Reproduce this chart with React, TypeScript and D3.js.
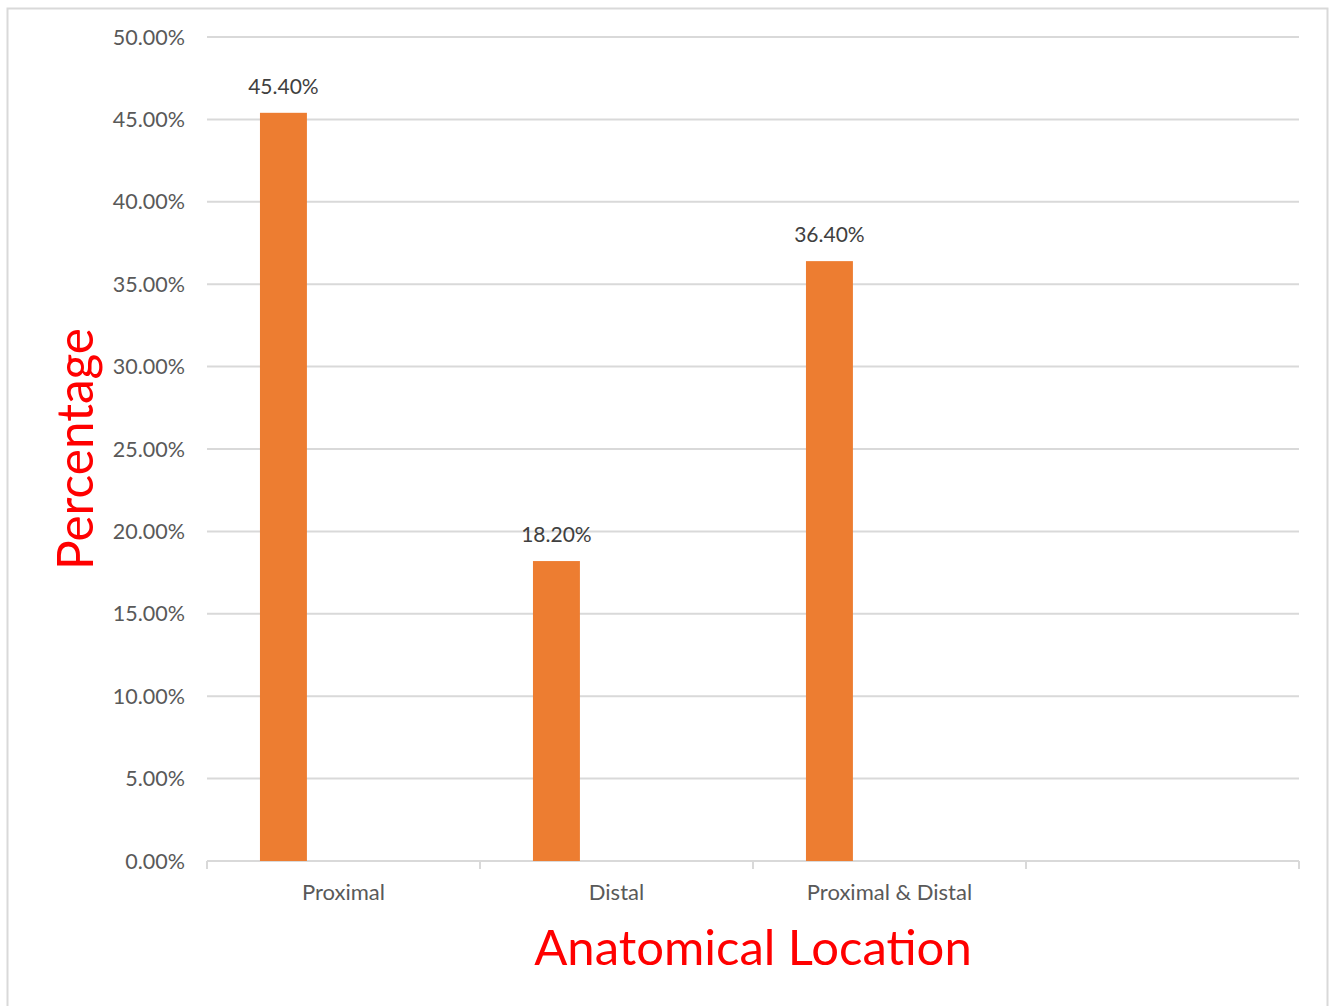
import * as d3 from 'd3';
import { useEffect, useRef } from 'react';

const categories = ['Proximal', 'Distal', 'Proximal & Distal', ''];
const values = [0.454, 0.182, 0.364, null];
const yTicks = [0, 0.05, 0.1, 0.15, 0.2, 0.25, 0.3, 0.35, 0.4, 0.45, 0.5];

export default function App() {
  const ref = useRef<SVGSVGElement | null>(null);

  useEffect(() => {
    const width = 1333;
    const height = 1006;
    const left = 207;
    const right = 1299;
    const top = 37;
    const bottom = 861;
    const font = 'Lato, "Open Sans", sans-serif';

    const svg = d3.select(ref.current);
    svg.selectAll('*').remove();

    svg.attr('width', width).attr('height', height);

    svg
      .append('rect')
      .attr('width', width)
      .attr('height', height)
      .attr('fill', '#fff');

    /* ---------- FRAME ---------- */
    svg
      .append('rect')
      .attr('x', 7.5)
      .attr('y', 8.5)
      .attr('width', 1320)
      .attr('height', 1010)
      .attr('fill', 'none')
      .attr('stroke', '#d9d9d9')
      .attr('stroke-width', 2);

    const x = d3.scaleBand<string>().domain(categories.map((c, i) => c + '#' + i)).range([left, right]);
    const y = d3.scaleLinear().domain([0, 0.5]).range([bottom, top]);
    const fmt = d3.format('.2%');

    /* ---------- GRID ---------- */
    svg
      .selectAll('.grid')
      .data(yTicks.filter(t => t > 0))
      .enter()
      .append('line')
      .attr('x1', left)
      .attr('x2', right)
      .attr('y1', d => y(d))
      .attr('y2', d => y(d))
      .attr('stroke', '#d9d9d9')
      .attr('stroke-width', 2);

    /* ---------- Y LABELS ---------- */
    svg
      .selectAll('.ytick')
      .data(yTicks)
      .enter()
      .append('text')
      .attr('x', 185)
      .attr('y', d => y(d))
      .attr('dy', '0.35em')
      .attr('text-anchor', 'end')
      .attr('fill', '#595959')
      .style('font-family', font)
      .style('font-size', '21.5px')
      .text(d => fmt(d));

    /* ---------- X AXIS ---------- */
    svg
      .append('line')
      .attr('x1', left)
      .attr('x2', right)
      .attr('y1', bottom)
      .attr('y2', bottom)
      .attr('stroke', '#d9d9d9')
      .attr('stroke-width', 2);

    const keys = x.domain();
    const bounds = keys.map(k => x(k) as number).concat([right]);
    svg
      .selectAll('.xtick')
      .data(bounds)
      .enter()
      .append('line')
      .attr('x1', d => d)
      .attr('x2', d => d)
      .attr('y1', bottom)
      .attr('y2', bottom + 8)
      .attr('stroke', '#d9d9d9')
      .attr('stroke-width', 2);

    svg
      .selectAll('.xlabel')
      .data(keys)
      .enter()
      .append('text')
      .attr('x', d => (x(d) as number) + x.bandwidth() / 2)
      .attr('y', 892)
      .attr('dy', '0.35em')
      .attr('text-anchor', 'middle')
      .attr('fill', '#595959')
      .style('font-family', font)
      .style('font-size', '22px')
      .text((d, i) => categories[i]);

    /* ---------- BARS ---------- */
    const bw = x.bandwidth();
    const barData = keys
      .map((k, i) => ({ key: k, value: values[i] }))
      .filter(d => d.value != null) as { key: string; value: number }[];

    svg
      .selectAll('.bar')
      .data(barData)
      .enter()
      .append('rect')
      .attr('x', d => (x(d.key) as number) + bw * 0.194)
      .attr('y', d => y(d.value))
      .attr('width', bw * 0.172)
      .attr('height', d => bottom - y(d.value))
      .attr('fill', '#ED7D31');

    svg
      .selectAll('.value-label')
      .data(barData)
      .enter()
      .append('text')
      .attr('x', d => (x(d.key) as number) + bw * 0.194 + (bw * 0.172) / 2)
      .attr('y', d => y(d.value) - 26)
      .attr('dy', '0.35em')
      .attr('text-anchor', 'middle')
      .attr('fill', '#404040')
      .style('font-family', font)
      .style('font-size', '21px')
      .text(d => fmt(d.value));

    /* ---------- AXIS TITLES ---------- */
    svg
      .append('text')
      .attr('x', 753)
      .attr('y', 948)
      .attr('dy', '0.35em')
      .attr('text-anchor', 'middle')
      .attr('fill', '#FF0000')
      .style('font-family', font)
      .style('font-size', '49px')
      .text('Anatomical Location');

    svg
      .append('text')
      .attr('transform', 'translate(76,449) rotate(-90)')
      .attr('dy', '0.35em')
      .attr('text-anchor', 'middle')
      .attr('fill', '#FF0000')
      .style('font-family', font)
      .style('font-size', '49.5px')
      .text('Percentage');
  }, []);

  return (
    <div style={{ position: 'absolute', left: 0, top: 0 }}>
      <svg ref={ref} style={{ display: 'block' }} />
    </div>
  );
}
